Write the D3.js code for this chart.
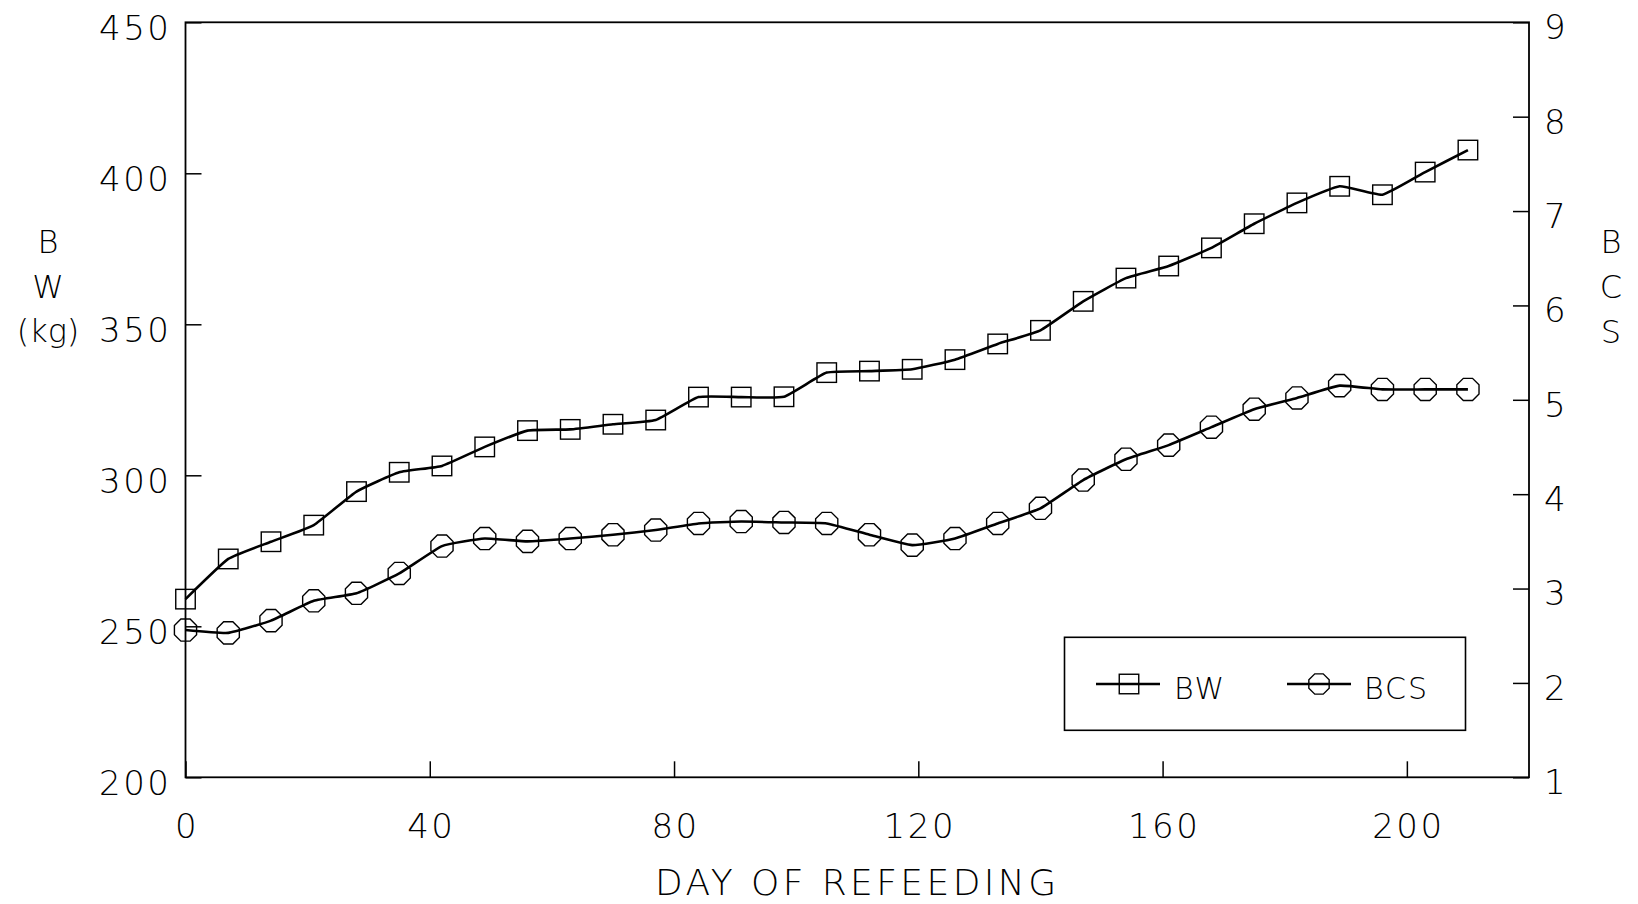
<!DOCTYPE html>
<html>
<head>
<meta charset="utf-8">
<script src="https://cdn.jsdelivr.net/npm/d3@7"></script>
<style>
  html, body { margin: 0; padding: 0; background: #fff; }
  svg { display: block; }
  text { font-family: "DejaVu Sans", "Liberation Sans", sans-serif; font-weight: 200; fill: #000; }
</style>
</head>
<body>
<svg id="chart" width="1638" height="904"></svg>
<script>
// ---- data ----
const days = [0, 7, 14, 21, 28, 35, 42, 49, 56, 63, 70, 77, 84, 91, 98, 105, 112, 119, 126, 133, 140, 147, 154, 161, 168, 175, 182, 189, 196, 203, 210];
const bw = [259.0, 272.3, 278.0, 283.5, 294.6, 301.0, 303.1, 309.4, 314.8, 315.2, 316.9, 318.3, 325.9, 325.9, 326.0, 334.0, 334.5, 335.1, 338.3, 343.5, 348.0, 357.6, 365.3, 369.3, 375.3, 383.3, 390.2, 395.7, 392.9, 400.4, 407.7];
const bcs = [2.56, 2.53, 2.66, 2.87, 2.95, 3.16, 3.45, 3.53, 3.50, 3.53, 3.57, 3.62, 3.69, 3.71, 3.70, 3.69, 3.57, 3.46, 3.53, 3.69, 3.85, 4.15, 4.37, 4.52, 4.71, 4.90, 5.02, 5.15, 5.11, 5.11, 5.11];
const xTicks = [0, 40, 80, 120, 160, 200];
const yLeftTicks = [200, 250, 300, 350, 400, 450];
const yRightTicks = [1, 2, 3, 4, 5, 6, 7, 8, 9];
const seriesNames = ["BW", "BCS"];
const xTitle = "DAY OF REFEEDING";
const yLeftTitle = ["B", "W", "(kg)"];
const yRightTitle = ["B", "C", "S"];

// ---- layout ----
const L = 185.5, R = 1529, T = 22.3, B = 777.3;
const svg = d3.select("#chart");

const x = d3.scaleLinear().domain([0, 220]).range([L, R]);
const yL = d3.scaleLinear().domain([200, 450]).range([B, T]);
const yR = d3.scaleLinear().domain([1, 9]).range([B, T]);

const tickFont = 34;

// axes
const gx = svg.append("g").attr("transform", `translate(0,${B})`)
  .call(d3.axisBottom(x).tickValues(xTicks).tickSize(-16).tickSizeOuter(0).tickPadding(37).tickFormat(d3.format("d")));
const gl = svg.append("g").attr("transform", `translate(${L},0)`)
  .call(d3.axisLeft(yL).tickValues(yLeftTicks).tickSize(-16).tickSizeOuter(0).tickPadding(14).tickFormat(d3.format("d")));
const gr = svg.append("g").attr("transform", `translate(${R},0)`)
  .call(d3.axisRight(yR).tickValues(yRightTicks).tickSize(-16).tickSizeOuter(0).tickPadding(15).tickFormat(d3.format("d")));

[gx, gl, gr].forEach(g => {
  g.select(".domain").remove();
  g.selectAll(".tick line").attr("stroke", "#000").attr("stroke-width", 1.5);
  g.selectAll(".tick text")
    .attr("font-family", null).attr("font-size", tickFont)
    .style("letter-spacing", "2.5px");
});
gl.selectAll(".tick text").attr("dy", "0.5em");
gr.selectAll(".tick text").attr("dy", "0.48em");
gx.selectAll(".tick text").attr("dx", "1px");

// frame
svg.append("rect").attr("x", L).attr("y", T).attr("width", R - L).attr("height", B - T)
  .attr("fill", "none").attr("stroke", "#000").attr("stroke-width", 1.8);

// titles
svg.append("text").attr("x", (L + R) / 2).attr("y", 895).attr("text-anchor", "middle")
  .attr("font-size", 36).style("letter-spacing", "3.4px").text(xTitle);
const leftBase = [253, 298, 342];
yLeftTitle.forEach((t, i) => {
  svg.append("text").attr("x", 48).attr("y", leftBase[i]).attr("text-anchor", "middle")
    .attr("font-size", 32).text(t);
});
const rightBase = [253, 298, 343];
yRightTitle.forEach((t, i) => {
  svg.append("text").attr("x", 1611).attr("y", rightBase[i]).attr("text-anchor", "middle")
    .attr("font-size", 32).text(t);
});

// marker shapes
const sq = 19.5;
function octagonPath(r) {
  const pts = d3.range(8).map(k => {
    const a = Math.PI / 8 + k * Math.PI / 4;
    return [r * Math.cos(a), r * Math.sin(a)];
  });
  return "M" + pts.map(p => p.join(",")).join("L") + "Z";
}
const oct = octagonPath(12);

// lines
const bwData = days.map((d, i) => ({ d, v: bw[i] }));
const bcsData = days.map((d, i) => ({ d, v: bcs[i] }));

const curve = d3.curveCardinal.tension(0.6);
const lineBW = d3.line().x(p => x(p.d)).y(p => yL(p.v)).curve(curve);
const lineBCS = d3.line().x(p => x(p.d)).y(p => yR(p.v)).curve(curve);

svg.append("path").datum(bwData).attr("d", lineBW)
  .attr("fill", "none").attr("stroke", "#000").attr("stroke-width", 2.6).attr("stroke-linejoin", "round");
svg.append("path").datum(bcsData).attr("d", lineBCS)
  .attr("fill", "none").attr("stroke", "#000").attr("stroke-width", 2.6).attr("stroke-linejoin", "round");

svg.append("g").selectAll("rect").data(bwData).join("rect")
  .attr("x", p => x(p.d) - sq / 2).attr("y", p => yL(p.v) - sq / 2)
  .attr("width", sq).attr("height", sq)
  .attr("fill", "none").attr("stroke", "#000").attr("stroke-width", 1.4);
svg.append("g").selectAll("path").data(bcsData).join("path")
  .attr("transform", p => `translate(${x(p.d)},${yR(p.v)})`)
  .attr("d", oct)
  .attr("fill", "none").attr("stroke", "#000").attr("stroke-width", 1.4);

// legend
const lg = svg.append("g");
lg.append("rect").attr("x", 1064.5).attr("y", 637.3).attr("width", 401).attr("height", 93)
  .attr("fill", "#fff").attr("stroke", "#000").attr("stroke-width", 1.6);
const legY = 684;
const legItems = [
  { name: seriesNames[0], x1: 1096, x2: 1160, cx: 1129, tx: 1174, shape: "sq" },
  { name: seriesNames[1], x1: 1287, x2: 1351, cx: 1319, tx: 1364, shape: "oct" }
];
legItems.forEach(it => {
  lg.append("line").attr("x1", it.x1).attr("x2", it.x2).attr("y1", legY).attr("y2", legY)
    .attr("stroke", "#000").attr("stroke-width", 2.6);
  if (it.shape === "sq") {
    lg.append("rect").attr("x", it.cx - sq / 2).attr("y", legY - sq / 2).attr("width", sq).attr("height", sq)
      .attr("fill", "none").attr("stroke", "#000").attr("stroke-width", 1.4);
  } else {
    lg.append("path").attr("transform", `translate(${it.cx},${legY})`).attr("d", octagonPath(11))
      .attr("fill", "none").attr("stroke", "#000").attr("stroke-width", 1.4);
  }
  lg.append("text").attr("x", it.tx).attr("y", 699.3).attr("font-size", 30)
    .style("letter-spacing", "2px").text(it.name);
});
</script>
</body>
</html>
